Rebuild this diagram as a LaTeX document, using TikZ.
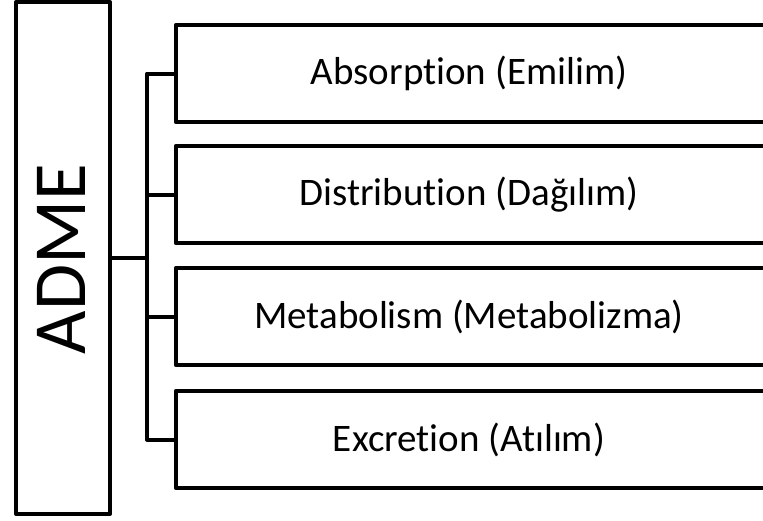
\documentclass[tikz,border=0pt]{standalone}
\usepackage{fontspec}
\setmainfont{Carlito}[Ligatures=NoCommon]
\usetikzlibrary{calc}
\begin{document}
\begin{tikzpicture}[x=1pt,y=-1pt,
  box/.style={minimum width=620pt, minimum height=97pt, inner sep=0pt, font=\fontsize{39}{44}\selectfont},
  edge/.style={draw=black, line width=4pt, line join=round},
  conn/.style={draw=black, line width=4pt, line join=round}]
\useasboundingbox (0,0) rectangle (763,520);
\node[draw=black, line width=4pt, line join=round, minimum width=94pt, minimum height=512pt, inner sep=0pt] (adme) at (63,258) {};
\node[rotate=90, font=\fontsize{75}{80}\selectfont] (admet) at (61,259) {ADME};
\node[box] (b1) at (486,73.5) {\hspace*{-34pt}Absorption (Emilim)};
\node[box] (b2) at (486,194.5) {\hspace*{-34pt}Distribution (Dağılım)};
\node[box] (b3) at (486,316.5) {\hspace*{-34pt}Metabolism (Metabolizma)};
\node[box] (b4) at (486,439.5) {\hspace*{-34pt}Excretion (Atılım)};
\foreach \b in {b1,b2,b3,b4}
  \draw[edge] (\b.north east) -- (\b.north west) -- (\b.south west) -- (\b.south east);
\coordinate (j) at ($(adme.east)+(35,0)$);
\draw[conn] (adme.east) -- (j);
\draw[conn] (b1.west) -| (j) |- (b4.west);
\draw[conn] (b2.west) -- (b2.west -| j);
\draw[conn] (b3.west) -- (b3.west -| j);
\end{tikzpicture}
\end{document}
